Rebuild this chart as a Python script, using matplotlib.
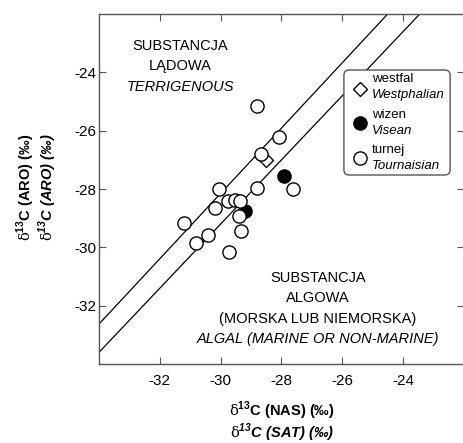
import matplotlib
matplotlib.use("Agg")
import matplotlib.pyplot as plt
from matplotlib import font_manager
from matplotlib.patches import FancyBboxPatch
import numpy as np

# pick a narrow sans if available
names = {f.name for f in font_manager.fontManager.ttflist}
font = "Liberation Sans Narrow" if "Liberation Sans Narrow" in names else "Liberation Sans"
plt.rcParams["font.family"] = [font, "DejaVu Sans"]
plt.rcParams["mathtext.fontset"] = "custom"
plt.rcParams["mathtext.rm"] = "DejaVu Serif"
plt.rcParams["mathtext.bf"] = font + ":bold"
plt.rcParams["mathtext.bfit"] = font + ":bold:italic"

# data: d13C saturates (x) vs aromatics (y)
tour_x = [-28.80, -28.09, -28.66, -30.06, -28.80, -27.63, -30.17, -29.75,
          -29.54, -29.35, -31.20, -30.41, -30.80, -29.71, -29.34, -29.39]
tour_y = [-25.17, -26.22, -26.79, -27.99, -27.97, -27.99, -28.65, -28.42,
          -28.38, -28.42, -29.17, -29.57, -29.84, -30.15, -29.44, -28.91]
vis_x = [-27.92, -29.19]
vis_y = [-27.56, -28.77]
west_x = [-28.51]
west_y = [-26.99]

# boundary lines y = a*x + b
upper_line = [1.12, 5.45]
lower_line = [1.10, 3.80]

ticks = [-32, -30, -28, -26, -24]

fig = plt.figure(figsize=(4.63, 4.43), dpi=100)
ax = fig.add_axes([99 / 463, 79 / 443, 365 / 463, 350 / 443])
ax.set_xlim(-34, -22)
ax.set_ylim(-34, -22)

xx = np.array([-34.0, -22.0])
for a, b in (upper_line, lower_line):
    ax.plot(xx, a * xx + b, color="black", lw=0.9, zorder=1)

ax.plot(west_x, west_y, "D", ms=7, mfc="white", mec="black", mew=1, zorder=2)
ax.plot(vis_x, vis_y, "o", ms=9.5, mfc="black", mec="black", mew=1, zorder=3)
ax.plot(tour_x, tour_y, "o", ms=9.5, mfc="white", mec="black", mew=1, zorder=4)

ax.set_xticks(ticks)
ax.set_yticks(ticks)
ax.set_xticklabels([str(t) for t in ticks])
ax.set_yticklabels([str(t) for t in ticks])
ax.tick_params(direction="in", length=5, width=0.8, color="#555555",
               top=True, right=True, labelsize=11, pad=2)
ax.tick_params(axis="x", pad=7)
for s in ax.spines.values():
    s.set_color("#555555")
    s.set_linewidth(1)

# region labels
fs = 10.5
ax.text(0.222, 0.909, "SUBSTANCJA", transform=ax.transAxes, ha="center", va="center", fontsize=fs)
ax.text(0.222, 0.851, "LĄDOWA", transform=ax.transAxes, ha="center", va="center", fontsize=fs)
ax.text(0.222, 0.791, "TERRIGENOUS", transform=ax.transAxes, ha="center", va="center",
        fontsize=fs, style="italic")
ax.text(0.60, 0.246, "SUBSTANCJA", transform=ax.transAxes, ha="center", va="center", fontsize=fs)
ax.text(0.60, 0.189, "ALGOWA", transform=ax.transAxes, ha="center", va="center", fontsize=fs)
ax.text(0.60, 0.129, "(MORSKA LUB NIEMORSKA)", transform=ax.transAxes, ha="center",
        va="center", fontsize=fs)
ax.text(0.60, 0.071, "ALGAL (MARINE OR NON-MARINE)", transform=ax.transAxes, ha="center",
        va="center", fontsize=fs, style="italic")

# legend drawn by hand
box = FancyBboxPatch((0.671, 0.54), 0.291, 0.30, boxstyle="round,pad=0,rounding_size=0.015",
                     transform=ax.transAxes, fc="white", ec="#555555", lw=1, zorder=5)
ax.add_patch(box)
leg = [("D", "white", 7, "westfal", "Westphalian", 0.786, 0.814, 0.769),
       ("o", "black", 9.5, "wizen", "Visean", 0.689, 0.711, 0.666),
       ("o", "white", 9.5, "turnej", "Tournaisian", 0.589, 0.611, 0.566)]
for m, fc, ms, pl, en, ym, y1, y2 in leg:
    ax.plot([0.715], [ym], m, ms=ms, mfc=fc, mec="black", mew=1,
            transform=ax.transAxes, zorder=6, clip_on=False)
    ax.text(0.748, y1, pl, transform=ax.transAxes, va="center", fontsize=9.5, zorder=6)
    ax.text(0.748, y2, en, transform=ax.transAxes, va="center", fontsize=9.5,
            style="italic", zorder=6)

# axis titles
lfs = 10.5
fig.text(0.609, 0.073, r"$\mathrm{\delta}^{\mathbf{13}}$C (NAS) (‰)", ha="center", va="center",
         fontsize=lfs, fontweight="bold")
fig.text(0.609, 0.024, r"$\mathrm{\delta}^{\mathbfit{13}}$C (SAT) (‰)", ha="center", va="center",
         fontsize=lfs, fontweight="bold", style="italic")
fig.text(0.056, 0.578, r"$\mathrm{\delta}^{\mathbf{13}}$C (ARO) (‰)", ha="center", va="center",
         fontsize=lfs, fontweight="bold", rotation=90)
fig.text(0.104, 0.578, r"$\mathrm{\delta}^{\mathbfit{13}}$C (ARO) (‰)", ha="center", va="center",
         fontsize=lfs, fontweight="bold", style="italic", rotation=90)

fig.savefig("out.png", dpi=100)
